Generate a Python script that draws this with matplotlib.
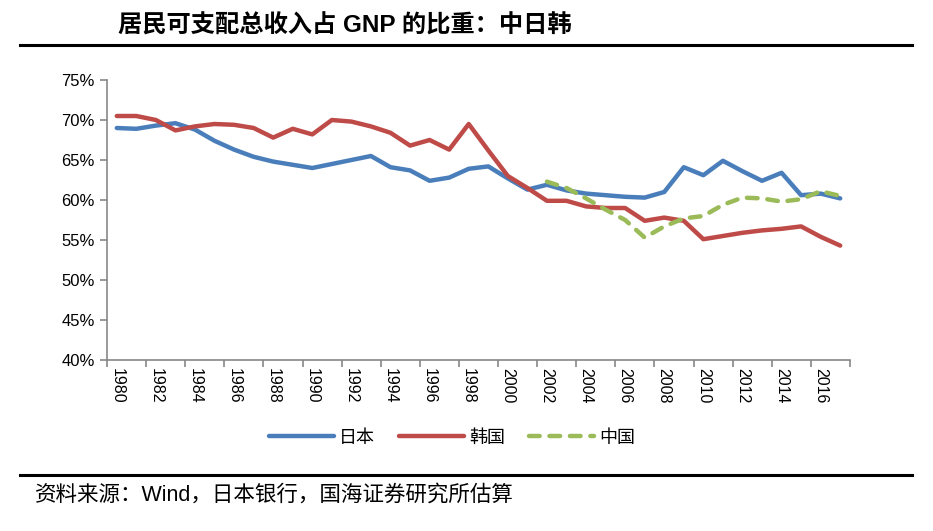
import numpy as np
import matplotlib
matplotlib.use("Agg")
import matplotlib.pyplot as plt
from matplotlib.lines import Line2D

plt.rcParams['font.family'] = ['Liberation Sans', 'Noto Sans CJK SC', 'DejaVu Sans']

years = list(range(1980, 2018))
japan = [69.0, 68.9, 69.3, 69.6, 68.8, 67.4, 66.3, 65.4, 64.8, 64.4,
         64.0, 64.5, 65.0, 65.5, 64.1, 63.7, 62.4, 62.8, 63.9, 64.2,
         62.7, 61.3, 61.9, 61.2, 60.8, 60.6, 60.4, 60.3, 61.0, 64.1,
         63.1, 64.9, 63.6, 62.4, 63.4, 60.6, 60.8, 60.2]
korea = [70.5, 70.5, 70.0, 68.7, 69.2, 69.5, 69.4, 69.0, 67.8, 68.9,
         68.2, 70.0, 69.8, 69.2, 68.4, 66.8, 67.5, 66.3, 69.5, 66.2,
         63.0, 61.5, 59.9, 59.9, 59.2, 59.0, 59.0, 57.4, 57.8, 57.4,
         55.1, 55.5, 55.9, 56.2, 56.4, 56.7, 55.4, 54.3]
china = [np.nan] * 22 + [62.3, 61.5, 60.2, 58.8, 57.5, 55.3, 56.7, 57.7,
                         58.0, 59.4, 60.3, 60.2, 59.8, 60.1, 61.1, 60.5]
yticks = [40, 45, 50, 55, 60, 65, 70, 75]
series_names = ['日本', '韩国', '中国']

W, H = 933, 531
fig = plt.figure(figsize=(W / 100, H / 100), dpi=100)
ax = fig.add_axes([107 / W, 1 - 360 / H, (850 - 107) / W, (360 - 80) / H])

x = np.arange(len(years))
c_blue, c_red, c_green = '#4A7EBB', '#BE4B48', '#9BBB59'
l1, = ax.plot(x, japan, color=c_blue, lw=3.2, solid_capstyle='round', solid_joinstyle='round')
l2, = ax.plot(x, korea, color=c_red, lw=3.2, solid_capstyle='round', solid_joinstyle='round')
l3, = ax.plot(x, china, color=c_green, lw=3.2, dashes=(2.4, 2.2), dash_capstyle='round', dash_joinstyle='round')

ax.set_xlim(-0.5, len(years) - 0.5)
ax.set_ylim(40, 75)
ax.set_yticks(yticks)
ax.set_yticklabels([f'{v}%' for v in yticks])

# tick marks at category boundaries every two categories, labels at centers
ax.set_xticks(np.arange(-0.5, len(years), 2))
ax.set_xticklabels([])
ax.set_xticks(x[::2], minor=True)
ax.set_xticklabels([str(y) for y in years[::2]], minor=True, rotation=270)
ax.tick_params(axis='x', which='major', length=5, width=1.2, color='#878787', direction='out')
ax.tick_params(axis='x', which='minor', length=0, pad=6, labelsize=11.5)
ax.tick_params(axis='y', length=5, width=1.2, color='#878787', direction='out', labelsize=12, pad=4)

for s in ['top', 'right']:
    ax.spines[s].set_visible(False)
for s in ['left', 'bottom']:
    ax.spines[s].set_color('#878787')
    ax.spines[s].set_linewidth(1.2)

fig.legend([l1, l2, l3], series_names, loc='center', bbox_to_anchor=(452 / W, 1 - 438 / H),
           ncol=3, frameon=False, fontsize=13, handlelength=3.6, handletextpad=0.3,
           columnspacing=1.3)

fig.text(118 / W, 1 - 26 / H, '居民可支配总收入占 GNP 的比重：中日韩', fontsize=17.5,
         fontweight='bold', va='center', ha='left')
fig.add_artist(Line2D([20 / W, 912 / W], [1 - 45 / H] * 2, color='black', lw=2.2))
fig.add_artist(Line2D([20 / W, 912 / W], [1 - 475 / H] * 2, color='black', lw=2.2))
fig.text(35 / W, 1 - 495 / H, '资料来源：Wind，日本银行，国海证券研究所估算', fontsize=15.5,
         va='center', ha='left')

fig.savefig('out.png', dpi=100)
